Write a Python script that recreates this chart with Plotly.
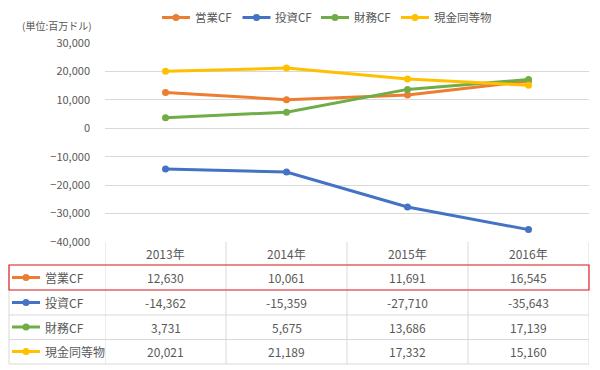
import plotly.graph_objects as go

# ---- data ----
years = ["2013年", "2014年", "2015年", "2016年"]
series_names = ["営業CF", "投資CF", "財務CF", "現金同等物"]
operating_cf = [12630, 10061, 11691, 16545]
investing_cf = [-14362, -15359, -27710, -35643]
financing_cf = [3731, 5675, 13686, 17139]
cash_equiv = [20021, 21189, 17332, 15160]
y_tick_values = [-40000, -30000, -20000, -10000, 0, 10000, 20000, 30000]
unit_label = "(単位:百万ドル)"

series_values = [operating_cf, investing_cf, financing_cf, cash_equiv]
colors = ["#ED7D31", "#4472C4", "#70AD47", "#FFC000"]

# ---- layout geometry (pixels) ----
W, H = 600, 370
ML, MR, MT, MB = 105, 11, 43, 128
PH = H - MT - MB  # plot height
PW = W - ML - MR


def py(p):  # pixel y -> paper y
    return (H - MB - p) / PH


def px(p):  # pixel x -> paper x
    return (p - ML) / PW


FONT = "Noto Sans CJK JP, Noto Sans, sans-serif"
TXT = "#595959"
GRID = "#D9D9D9"

fig = go.Figure()
for name, vals, c in zip(series_names, series_values, colors):
    fig.add_trace(go.Scatter(
        x=years, y=vals, name=name, mode="lines+markers",
        line=dict(color=c, width=3),
        marker=dict(color=c, size=7),
        cliponaxis=False, showlegend=False,
    ))

shapes = []
annotations = []


def legend_key(x0, yc, c, length):
    shapes.append(dict(type="line", xref="paper", yref="paper",
                       x0=px(x0), x1=px(x0 + length), y0=py(yc), y1=py(yc),
                       line=dict(color=c, width=3)))
    mx = x0 + length / 2
    shapes.append(dict(type="circle", xref="paper", yref="paper",
                       x0=px(mx - 3.5), x1=px(mx + 3.5), y0=py(yc + 3.5), y1=py(yc - 3.5),
                       fillcolor=c, line=dict(color=c, width=0)))


# ---- top legend ----
legend_starts = [162, 242.5, 321, 401]
for x0, name, c in zip(legend_starts, series_names, colors):
    legend_key(x0, 17.5, c, 28)
    annotations.append(dict(x=px(x0 + 30.5), xref="paper", y=py(17), yref="paper", text=name,
                            showarrow=False, font=dict(family=FONT, size=11.5, color=TXT),
                            xanchor="left", yanchor="middle"))

# ---- data table ----
header_top, header_bot = 242, 265
row_lines = [265, 290, 315, 339.5, 364]
left_edge, right_edge = 9, 589

for y in row_lines[1:]:
    shapes.append(dict(type="line", xref="paper", yref="paper",
                       x0=px(left_edge), x1=px(right_edge), y0=py(y), y1=py(y),
                       line=dict(color=GRID, width=1), layer="below"))
shapes.append(dict(type="line", xref="paper", yref="paper",
                   x0=px(left_edge), x1=px(left_edge), y0=py(row_lines[0]), y1=py(row_lines[-1]),
                   line=dict(color=GRID, width=1)))
shapes.append(dict(type="line", xref="paper", yref="paper",
                   x0=px(left_edge), x1=px(right_edge), y0=py(header_bot), y1=py(header_bot),
                   line=dict(color=GRID, width=1)))
for xb in [-0.5, 0.5, 1.5, 2.5, 3.5]:
    shapes.append(dict(type="line", xref="x", yref="paper",
                       x0=xb, x1=xb, y0=py(header_top), y1=py(row_lines[-1]),
                       line=dict(color=GRID, width=1)))

for yr in years:
    annotations.append(dict(x=yr, xref="x", y=py(253.5), yref="paper", text=yr,
                            showarrow=False, font=dict(family=FONT, size=12, color=TXT),
                            xanchor="center", yanchor="middle"))

row_centers = [277.5, 302.5, 327, 351.5]
for rc, name, vals, c in zip(row_centers, series_names, series_values, colors):
    legend_key(12, rc, c, 28)
    annotations.append(dict(x=px(42.5), xref="paper", y=py(rc), yref="paper", text=name,
                            showarrow=False, font=dict(family=FONT, size=12, color=TXT),
                            xanchor="left", yanchor="middle"))
    for yr, v in zip(years, vals):
        annotations.append(dict(x=yr, xref="x", y=py(rc), yref="paper", text=f"{v:,}",
                                showarrow=False, font=dict(family=FONT, size=12, color=TXT),
                                xanchor="center", yanchor="middle"))

# red highlight box around first data row
shapes.append(dict(type="rect", xref="paper", yref="paper",
                   x0=px(left_edge), x1=px(right_edge), y0=py(290), y1=py(265),
                   line=dict(color="#E3262B", width=1.2), fillcolor="rgba(0,0,0,0)"))

# unit label
annotations.append(dict(x=px(20), xref="paper", y=py(26), yref="paper", text=unit_label,
                        showarrow=False, font=dict(family=FONT, size=10, color=TXT),
                        xanchor="left", yanchor="middle"))

fig.update_layout(
    width=W, height=H,
    margin=dict(l=ML, r=MR, t=MT, b=MB, pad=0, autoexpand=False),
    paper_bgcolor="white", plot_bgcolor="white",
    font=dict(family=FONT, color=TXT, size=11),
    showlegend=False,
    xaxis=dict(type="category", range=[-0.5, 3.5], showticklabels=False, showgrid=False,
               zeroline=False, showline=False, ticks="", automargin=False),
    yaxis=dict(range=[-40000, 30000], tickvals=y_tick_values, tickformat=",",
               showgrid=True, gridcolor=GRID, gridwidth=1, zeroline=False, showline=False,
               ticks="", ticklabelstandoff=14, automargin=False,
               tickfont=dict(family=FONT, size=11, color=TXT)),
    shapes=shapes,
    annotations=annotations,
)

fig.write_html("out.html", post_script="document.body.style.margin='0px';",
               config={"displayModeBar": False})
